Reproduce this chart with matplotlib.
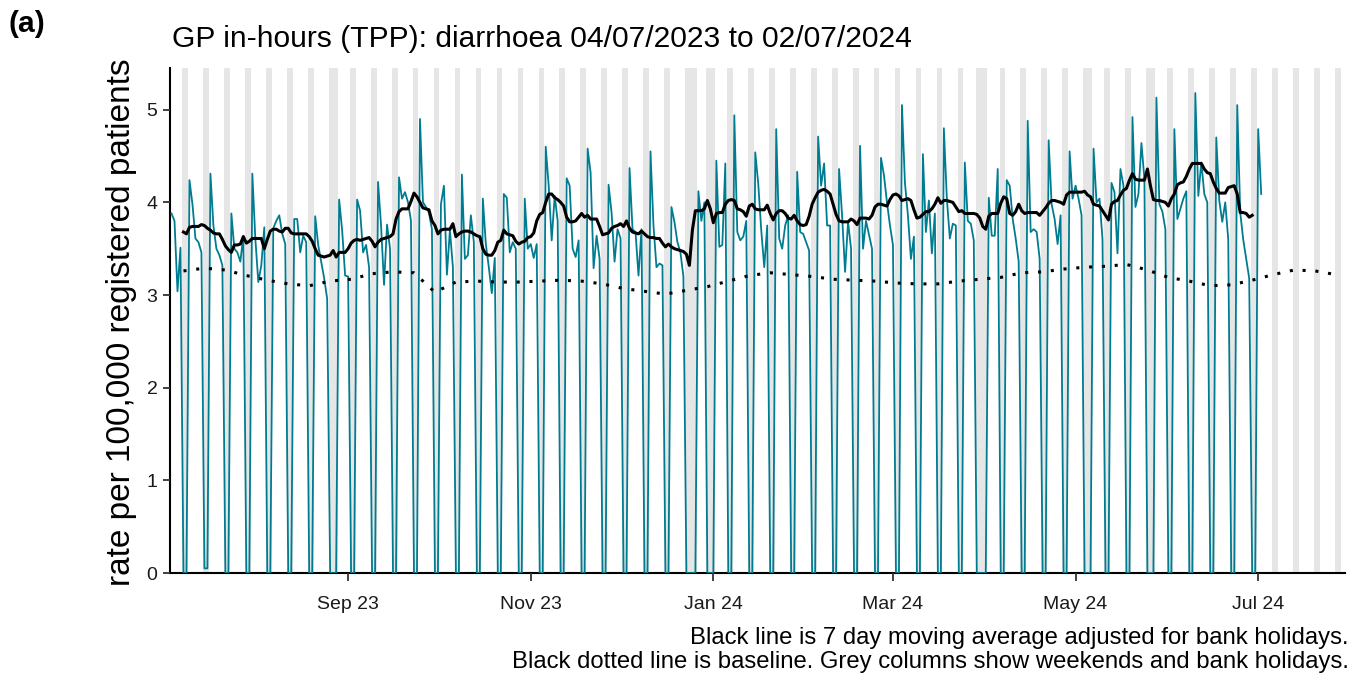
import pandas as pd
import matplotlib
matplotlib.use("Agg")
import matplotlib.pyplot as plt
import matplotlib.dates as mdates

plt.rcParams["font.family"] = ["Liberation Sans", "DejaVu Sans"]

TEAL = "#007C91"
GREY_COL = "#E6E6E6"

first_day = "2023-07-04"
last_day = "2024-07-02"
axis_start = "2023-07-03 12:00"
axis_end = "2024-07-30"

bank_holidays = ["2023-08-28", "2023-12-25", "2023-12-26", "2024-01-01",
                 "2024-03-29", "2024-04-01", "2024-05-06", "2024-05-27"]

# Daily rate on working days (Mon-Fri), one row per week
weekday_rates = [
    [3.88, 3.80, 3.04, 3.51],               # w/c 03 Jul 2023 (from Tue)
    [4.24, 3.98, 3.61, 3.57, 3.46],         # 10 Jul
    [4.31, 3.75, 3.50, 3.43, 3.32],         # 17 Jul
    [3.88, 3.50, 3.46, 3.36, 3.64],         # 24 Jul
    [4.31, 3.61, 3.14, 3.32, 3.73],         # 31 Jul
    [3.72, 3.80, 3.86, 3.66, 3.55],         # 07 Aug
    [3.82, 3.82, 3.46, 3.64, 3.57],         # 14 Aug
    [3.85, 3.54, 3.36, 3.18, 2.96],         # 21 Aug
    [0.00, 4.03, 3.70, 3.21, 3.20],         # 28 Aug
    [4.03, 3.91, 3.46, 3.54, 3.30],         # 04 Sep
    [4.22, 3.75, 3.11, 3.76, 3.50],         # 11 Sep
    [4.27, 4.04, 4.11, 4.00, 3.80],         # 18 Sep
    [4.90, 4.00, 3.95, 3.89, 3.71],         # 25 Sep
    [3.98, 4.18, 3.22, 3.70, 3.30],         # 02 Oct
    [4.30, 3.39, 3.43, 3.86, 3.57],         # 09 Oct
    [4.04, 3.55, 3.30, 3.02, 3.40],         # 16 Oct
    [4.09, 4.05, 3.46, 3.57, 3.50],         # 23 Oct
    [4.04, 3.50, 3.55, 3.40, 3.55],         # 30 Oct
    [4.60, 4.18, 3.59, 4.07, 3.80],         # 06 Nov
    [4.26, 4.18, 3.50, 3.41, 3.59],         # 13 Nov
    [4.58, 4.32, 3.29, 3.64, 3.39],         # 20 Nov
    [4.19, 3.89, 3.36, 3.71, 3.61],         # 27 Nov
    [4.37, 3.71, 3.68, 3.21, 3.71],         # 04 Dec
    [4.55, 3.75, 3.30, 3.34, 3.32],         # 11 Dec
    [3.95, 3.79, 3.57, 3.46, 3.20],         # 18 Dec
    [0.00, 0.00, 4.12, 3.80, 4.00],         # 25 Dec
    [0.00, 4.45, 3.52, 3.54, 4.42],         # 01 Jan 2024
    [4.94, 3.68, 3.59, 3.63, 3.80],         # 08 Jan
    [4.54, 4.20, 3.70, 3.30, 3.75],         # 15 Jan
    [4.79, 3.61, 3.50, 3.75, 3.86],         # 22 Jan
    [4.33, 3.68, 3.66, 3.57, 3.48],         # 29 Jan
    [4.71, 4.18, 4.42, 3.75, 3.75],         # 05 Feb
    [4.36, 3.86, 3.25, 3.79, 3.50],         # 12 Feb
    [4.61, 3.50, 3.80, 3.65, 3.50],         # 19 Feb
    [4.48, 4.29, 4.00, 3.75, 3.54],         # 26 Feb
    [5.05, 4.21, 3.86, 3.39, 3.63],         # 04 Mar
    [4.52, 3.68, 4.02, 3.45, 3.88],         # 11 Mar
    [4.80, 4.04, 3.61, 3.77, 3.75],         # 18 Mar
    [4.43, 3.80, 3.77, 3.59, 0.00],         # 25 Mar
    [0.00, 4.05, 3.64, 3.64, 4.36],         # 01 Apr
    [4.24, 4.18, 3.82, 3.61, 3.36],         # 08 Apr
    [4.88, 3.68, 3.71, 3.68, 3.39],         # 15 Apr
    [4.67, 3.98, 3.82, 3.55, 3.86],         # 22 Apr
    [4.55, 4.04, 4.18, 4.04, 3.86],         # 29 Apr
    [0.00, 4.58, 4.00, 4.04, 3.60],         # 06 May
    [4.21, 4.11, 3.45, 4.36, 4.18],         # 13 May
    [4.92, 3.95, 4.09, 4.64, 4.25],         # 20 May
    [0.00, 5.13, 3.98, 3.90, 3.71],         # 27 May
    [4.79, 3.82, 3.93, 4.04, 4.12],         # 03 Jun
    [5.18, 4.07, 4.43, 4.09, 4.00],         # 10 Jun
    [4.70, 4.02, 3.79, 4.00, 3.60],         # 17 Jun
    [5.05, 3.89, 3.60, 3.39, 3.18],         # 24 Jun
    [4.79, 4.09],                           # 01 Jul (to Tue)
]

# Weekend days that did not record zero
weekend_rates = {"2023-07-15": 0.05, "2023-07-16": 0.05}

# 7 day moving average (adjusted for bank holidays), daily from ma_start
ma_start = "2023-07-08"
moving_avg = [
    3.68, 3.66, 3.73, 3.74, 3.74, 3.74, 3.76, 3.75, 3.72, 3.70,
    3.67, 3.66, 3.66, 3.60, 3.53, 3.49, 3.46, 3.54, 3.54, 3.55,
    3.63, 3.56, 3.58, 3.61, 3.61, 3.61, 3.61, 3.50, 3.60, 3.69,
    3.71, 3.71, 3.69, 3.68, 3.72, 3.72, 3.67, 3.66, 3.66, 3.66,
    3.66, 3.66, 3.63, 3.58, 3.50, 3.43, 3.42, 3.41, 3.42, 3.43,
    3.48, 3.41, 3.46, 3.46, 3.46, 3.50, 3.56, 3.59, 3.60, 3.59,
    3.60, 3.61, 3.62, 3.58, 3.52, 3.57, 3.60, 3.61, 3.62, 3.63,
    3.66, 3.82, 3.90, 3.93, 3.93, 3.93, 4.01, 4.10, 4.06, 4.00,
    3.94, 3.93, 3.92, 3.80, 3.75, 3.66, 3.70, 3.71, 3.71, 3.71,
    3.77, 3.63, 3.66, 3.68, 3.69, 3.69, 3.68, 3.66, 3.64, 3.63,
    3.50, 3.44, 3.43, 3.43, 3.48, 3.57, 3.59, 3.70, 3.66, 3.65,
    3.64, 3.58, 3.55, 3.57, 3.58, 3.62, 3.63, 3.67, 3.80, 3.87,
    3.89, 4.00, 4.09, 4.09, 4.05, 4.03, 4.00, 3.96, 3.84, 3.79,
    3.79, 3.80, 3.84, 3.88, 3.84, 3.86, 3.82, 3.82, 3.82, 3.74,
    3.65, 3.66, 3.67, 3.72, 3.74, 3.75, 3.77, 3.74, 3.80, 3.72,
    3.68, 3.67, 3.66, 3.69, 3.66, 3.63, 3.62, 3.62, 3.61, 3.61,
    3.56, 3.52, 3.55, 3.52, 3.50, 3.49, 3.48, 3.47, 3.44, 3.32,
    3.70, 3.91, 3.91, 3.91, 3.93, 4.02, 3.93, 3.78, 3.88, 3.89,
    3.89, 3.98, 4.02, 4.03, 4.02, 3.93, 3.92, 3.90, 3.85, 3.96,
    3.98, 3.93, 3.92, 3.92, 3.92, 3.97, 3.88, 3.81, 3.88, 3.91,
    3.91, 3.88, 3.83, 3.82, 3.86, 3.80, 3.76, 3.75, 3.76, 3.85,
    3.98, 4.05, 4.11, 4.13, 4.14, 4.12, 4.09, 3.98, 3.87, 3.80,
    3.79, 3.79, 3.79, 3.82, 3.80, 3.76, 3.83, 3.83, 3.83, 3.82,
    3.86, 3.95, 3.98, 3.98, 3.97, 3.96, 4.03, 4.08, 4.09, 4.07,
    4.02, 4.03, 4.04, 4.02, 3.92, 3.83, 3.84, 3.87, 3.90, 3.90,
    3.93, 3.98, 4.05, 3.99, 4.02, 4.02, 4.01, 4.00, 3.95, 3.90,
    3.91, 3.88, 3.88, 3.88, 3.88, 3.87, 3.83, 3.74, 3.71, 3.85,
    3.88, 3.88, 3.88, 3.99, 4.06, 4.04, 3.88, 3.86, 3.90, 3.98,
    3.91, 3.88, 3.89, 3.89, 3.89, 3.89, 3.86, 3.90, 3.94, 3.99,
    4.02, 4.02, 4.01, 4.00, 3.98, 4.08, 4.11, 4.11, 4.11, 4.11,
    4.11, 4.12, 4.08, 4.06, 3.98, 3.97, 3.96, 3.91, 3.86, 3.81,
    3.98, 4.01, 4.02, 4.08, 4.13, 4.15, 4.24, 4.31, 4.25, 4.24,
    4.24, 4.24, 4.36, 4.18, 4.03, 4.02, 4.02, 4.01, 4.00, 3.96,
    4.04, 4.09, 4.19, 4.21, 4.22, 4.28, 4.36, 4.42, 4.42, 4.42,
    4.42, 4.36, 4.32, 4.31, 4.22, 4.15, 4.10, 4.10, 4.10, 4.16,
    4.17, 4.18, 4.09, 3.89, 3.89, 3.88, 3.84, 3.86,
]

# Baseline, one value per week from baseline_start
baseline_start = "2023-07-08"
baseline = [
    3.26, 3.29, 3.27, 3.21, 3.16, 3.12, 3.10, 3.15, 3.17, 3.23,
    3.25, 3.24, 3.03, 3.14, 3.15, 3.14, 3.14, 3.15, 3.16, 3.15,
    3.12, 3.07, 3.04, 3.01, 3.05, 3.09, 3.15, 3.21, 3.24, 3.22,
    3.20, 3.17, 3.16, 3.15, 3.13, 3.12, 3.12, 3.15, 3.17, 3.19,
    3.24, 3.25, 3.28, 3.30, 3.31, 3.33, 3.27, 3.19, 3.15, 3.10,
    3.11, 3.16, 3.22, 3.27, 3.26, 3.22,
]

y_ticks = [0, 1, 2, 3, 4, 5]
x_tick_dates = ["2023-09-01", "2023-11-01", "2024-01-01",
                "2024-03-01", "2024-05-01", "2024-07-01"]

title = "GP in-hours (TPP): diarrhoea 04/07/2023 to 02/07/2024"
panel_tag = "(a)"
y_label = "rate per 100,000 registered patients"
caption = ("Black line is 7 day moving average adjusted for bank holidays.\n"
           "Black dotted line is baseline. Grey columns show weekends and bank holidays.")

# ---- assemble daily series -------------------------------------------------
days = pd.date_range(first_day, last_day, freq="D")
workdays = days[days.dayofweek < 5]
flat = [v for week in weekday_rates for v in week]
assert len(flat) == len(workdays)
rate = pd.Series(0.0, index=days)
rate[workdays] = flat
for d, v in weekend_rates.items():
    rate[pd.Timestamp(d)] = v

ma = pd.Series(moving_avg,
               index=pd.date_range(ma_start, periods=len(moving_avg), freq="D"))
base = pd.Series(baseline,
                 index=pd.date_range(baseline_start, periods=len(baseline), freq="7D"))

# ---- figure ----------------------------------------------------------------
W, H = 1362, 675
fig = plt.figure(figsize=(W / 100, H / 100), dpi=100)
ax = fig.add_axes([170 / W, 1 - 573 / H, 1175 / W, 505 / H])

# grey columns for weekends and bank holidays
bh = set(pd.to_datetime(bank_holidays))
grey_days = [d for d in pd.date_range(first_day, axis_end, freq="D")
             if d.dayofweek >= 5 or d in bh]
runs = []
for d in grey_days:
    if runs and (d - runs[-1][1]).days == 1:
        runs[-1][1] = d
    else:
        runs.append([d, d])
one_day = pd.Timedelta(days=1)
for a, b in runs:
    ax.axvspan(a - 0.4 * one_day, b + 0.5 * one_day, color=GREY_COL, lw=0, zorder=0)

ax.plot(rate.index, rate.values, color=TEAL, lw=1.3, zorder=2,
        solid_joinstyle="round")
ax.plot(ma.index, ma.values, color="black", lw=2.2, zorder=3,
        solid_joinstyle="round")
ax.plot(base.index, base.values, color="black", lw=2.2, zorder=3,
        linestyle=(0, (1, 3.2)), dash_capstyle="butt")

ax.set_xlim(pd.Timestamp(axis_start), pd.Timestamp(axis_end))
ax.set_ylim(0, 5.45)
ax.set_yticks(y_ticks)
ax.set_xticks(pd.to_datetime(x_tick_dates))
ax.xaxis.set_major_formatter(mdates.DateFormatter("%b %y"))

for s in ["top", "right"]:
    ax.spines[s].set_visible(False)
for s in ["left", "bottom"]:
    ax.spines[s].set_linewidth(1.5)
    ax.spines[s].set_color("black")
    ax.spines[s].set_zorder(1)
ax.tick_params(axis="both", width=1.3, color="#333333",
               labelsize=14, labelcolor="#1a1a1a")
ax.tick_params(axis="x", length=5.5, pad=11)
ax.tick_params(axis="y", length=5, pad=4)

fig.text(122 / W, 1 - 322 / H, y_label, rotation=90, ha="center", va="center",
         fontsize=24, color="black")
fig.text(172 / W, 1 - 47 / H, title, ha="left", va="baseline",
         fontsize=21.6, color="black")
fig.text(8 / W, 1 - 32 / H, panel_tag, ha="left", va="baseline",
         fontsize=21.6, fontweight="bold", color="black")
fig.text(1349 / W, 1 - 668 / H, caption, ha="right", va="baseline",
         fontsize=17.2, color="black", linespacing=1.1, multialignment="right")

fig.savefig("out.png", dpi=100)
